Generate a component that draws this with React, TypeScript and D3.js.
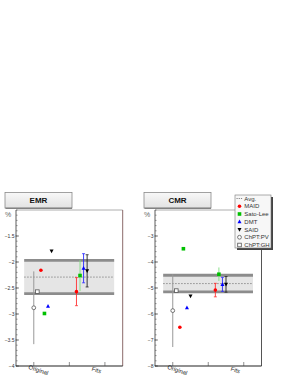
import React from "react";
import * as d3 from "d3";

// ---------- data ----------
const models = ["MAID", "Sato-Lee", "DMT", "SAID"];
const chptModels = ["ChPT:PV", "ChPT:GH"];
const modelColors = ["#ff0000", "#00c000", "#0000ff", "#000000"];
const fitBarColors = ["#ff3030", "#7fdc7f", "#2a2aff", "#222222"];
const modelShapes = ["circle", "square", "triangle", "triangleDown"];

const xCategories = ["Original", "", "Fits"];
const xTickPos = [0.5, 1.5, 2.5];

// x positions (in bin units) for the original-value points and the fit points
const origX = [0.7, 0.8, 0.9, 1.0];
const chptX = [0.5, 0.6];
const fitX = [1.7, 1.8, 1.9, 2.0];

// EMR panel
const emrOriginal = [-2.16, -2.99, -2.85, -1.79];
const emrChPT = [-2.88, -2.57];
const emrChPTErr = [0.7, 0];
const emrFit = [-2.57, -2.26, -2.12, -2.17];
const emrFitErr = [0.27, 0.3, 0.28, 0.31];
const emrAvg = -2.29;
const emrAvgErr = 0.32;
const emrTicks = [-1.5, -2, -2.5, -3, -3.5, -4];

// CMR panel
const cmrOriginal = [-6.51, -3.49, -5.76, -5.31];
const cmrChPT = [-5.87, -5.1];
const cmrChPTErr = [1.4, 0];
const cmrFit = [-5.08, -4.47, -4.86, -4.86];
const cmrFitErr = [0.26, 0.26, 0.27, 0.3];
const cmrAvg = -4.83;
const cmrAvgErr = 0.32;
const cmrTicks = [-3, -4, -5, -6, -7, -8];

const legendLabels = ["Avg.", ...models, ...chptModels];

// ---------- layout ----------
const W = 300;
const H = 388;
const TOP = 210;
const BOTTOM = 366;
const BAND_X = [0.23, 2.76];
const FONT = "'Liberation Sans', Arial, Helvetica, sans-serif";

function Marker({ shape, x, y, color, open }: any) {
  const s = 1.8;
  if (shape === "circle")
    return <circle cx={x} cy={y} r={open ? 1.9 : 1.8} fill={open ? "#fff" : color} stroke={open ? "#555" : "none"} strokeWidth={0.8} />;
  if (shape === "square")
    return <rect x={x - s} y={y - s} width={2 * s} height={2 * s} fill={open ? "#fff" : color} stroke={open ? "#555" : "none"} strokeWidth={0.8} />;
  if (shape === "triangle")
    return <path d={`M${x},${y - 2.2}L${x + 2},${y + 1.6}L${x - 2},${y + 1.6}Z`} fill={color} />;
  return <path d={`M${x},${y + 2.2}L${x + 2},${y - 1.6}L${x - 2},${y - 1.6}Z`} fill={color} />;
}

function Panel({ left, right, title, domain, ticks, minorStep, orig, chpt, chptErr, fit, fitErr, avg, avgErr, rightColor, labelDx }: any) {
  const x = d3.scaleLinear().domain([0, 3]).range([left, right]);
  const y = d3.scaleLinear().domain(domain).range([BOTTOM, TOP]);
  const minors = d3.range(domain[0], domain[1] + 1e-9, minorStep);
  const bandTop = y(avg + avgErr);
  const bandBot = y(avg - avgErr);
  return (
    <g>
      {/* title box */}
      <defs>
        <linearGradient id={`g${title}`} x1="0" y1="0" x2="0" y2="1">
          <stop offset="0" stopColor="#f8f8f8" />
          <stop offset="1" stopColor="#e2e2e2" />
        </linearGradient>
      </defs>
      <rect x={left - 11} y={192.5} width={67} height={15.5} fill={`url(#g${title})`} stroke="#8a8a8a" strokeWidth={0.8} />
      <line x1={left - 10.5} x2={left + 56} y1={208.3} y2={208.3} stroke="#555" strokeWidth={0.8} />
      <text x={left + 22.5} y={203.3} textAnchor="middle" fontFamily={FONT} fontWeight="bold" fontSize={8} fill="#111">{title}</text>

      {/* y title */}
      <text x={left - 11} y={217} fontFamily={FONT} fontSize={7} fill="#666">%</text>

      {/* band */}
      <rect x={x(BAND_X[0])} y={bandTop} width={x(BAND_X[1]) - x(BAND_X[0])} height={bandBot - bandTop} fill="#e5e5e5" />
      <line x1={x(BAND_X[0])} x2={x(BAND_X[1])} y1={bandTop} y2={bandTop} stroke="#8c8c8c" strokeWidth={2.8} />
      <line x1={x(BAND_X[0])} x2={x(BAND_X[1])} y1={bandBot} y2={bandBot} stroke="#8c8c8c" strokeWidth={2.8} />
      <line x1={x(BAND_X[0])} x2={x(BAND_X[1])} y1={y(avg)} y2={y(avg)} stroke="#777" strokeWidth={0.8} strokeDasharray="1.5,1.5" />

      {/* frame */}
      <line x1={left} x2={right} y1={TOP} y2={TOP} stroke="#9a9a9a" strokeWidth={0.8} />
      <line x1={right} x2={right} y1={TOP} y2={BOTTOM} stroke={rightColor} strokeWidth={1} />
      <line x1={left} x2={left} y1={TOP} y2={BOTTOM} stroke="#333" strokeWidth={0.8} />
      <line x1={left} x2={right} y1={BOTTOM} y2={BOTTOM} stroke="#222" strokeWidth={1.2} />

      {/* y ticks */}
      {minors.map((v: number, i: number) => (
        <line key={`m${i}`} x1={left} x2={left + 1.6} y1={y(v)} y2={y(v)} stroke="#444" strokeWidth={0.5} />
      ))}
      {ticks.map((v: number) => (
        <g key={`t${v}`}>
          <line x1={left - 0.5} x2={left + 3} y1={y(v)} y2={y(v)} stroke="#333" strokeWidth={0.6} />
          <text x={left - 1.5} y={y(v) + 1.8} textAnchor="end" fontFamily={FONT} fontSize={5} fill="#333">{d3.format("")(v)}</text>
        </g>
      ))}

      {/* x ticks */}
      {xTickPos.map((v, i) => (
        <g key={`x${i}`}>
          <line x1={x(v)} x2={x(v)} y1={BOTTOM} y2={BOTTOM - 4} stroke="#444" strokeWidth={0.6} />
          {xCategories[i] && (
            <text transform={`translate(${x(v) + labelDx[i]},${BOTTOM + 6}) rotate(18)`} textAnchor="middle" fontFamily={FONT} fontSize={6} fill="#222">{xCategories[i]}</text>
          )}
        </g>
      ))}

      {/* ChPT points */}
      {chpt.map((v: number, i: number) => (
        <g key={`c${i}`}>
          {chptErr[i] > 0 && (
            <line x1={x(chptX[i])} x2={x(chptX[i])} y1={y(v + chptErr[i])} y2={y(v - chptErr[i])} stroke="#999" strokeWidth={1} />
          )}
          <Marker shape={i === 0 ? "circle" : "square"} x={x(chptX[i])} y={y(v)} open />
        </g>
      ))}

      {/* original model values */}
      {orig.map((v: number, i: number) => (
        <Marker key={`o${i}`} shape={modelShapes[i]} x={x(origX[i])} y={y(v)} color={modelColors[i]} />
      ))}

      {/* fits with errors */}
      {fit.map((v: number, i: number) => {
        const cx = x(fitX[i]);
        const y1 = y(v + fitErr[i]);
        const y2 = y(v - fitErr[i]);
        return (
          <g key={`f${i}`}>
            <line x1={cx} x2={cx} y1={y1} y2={y2} stroke={fitBarColors[i]} strokeWidth={0.9} />
            {i !== 1 && <line x1={cx - 1.5} x2={cx + 1.5} y1={y1} y2={y1} stroke={fitBarColors[i]} strokeWidth={0.8} />}
            {i !== 1 && <line x1={cx - 1.5} x2={cx + 1.5} y1={y2} y2={y2} stroke={fitBarColors[i]} strokeWidth={0.8} />}
            <Marker shape={modelShapes[i]} x={cx} y={y(v)} color={modelColors[i]} />
          </g>
        );
      })}
    </g>
  );
}

function Legend() {
  const x0 = 235;
  const y0 = 195;
  const w = 36;
  const h = 53;
  const step = 7.75;
  return (
    <g>
      <rect x={x0 + 2} y={y0 + 2} width={w} height={h} fill="#444" />
      <rect x={x0} y={y0} width={w} height={h} fill="#f7f7f7" stroke="#777" strokeWidth={0.6} />
      {legendLabels.map((lab, i) => {
        const cy = y0 + 3.5 + i * step;
        let mark;
        if (i === 0) mark = <line x1={x0 + 1.5} x2={x0 + 8} y1={cy} y2={cy} stroke="#555" strokeWidth={0.7} strokeDasharray="1.2,1" />;
        else if (i <= 4) mark = <Marker shape={modelShapes[i - 1]} x={x0 + 4.5} y={cy} color={modelColors[i - 1]} />;
        else mark = <Marker shape={i === 5 ? "circle" : "square"} x={x0 + 4.5} y={cy} open />;
        return (
          <g key={lab}>
            {mark}
            <text x={x0 + 9.3} y={cy + 2} fontFamily={FONT} fontSize={6} fill="#333">{lab}</text>
          </g>
        );
      })}
    </g>
  );
}

export default function App() {
  return (
    <div style={{ position: "absolute", left: 0, top: 0 }}>
      <svg width={W} height={H} style={{ display: "block", background: "#fff" }}>
        <Panel left={16} right={122.7} title="EMR" domain={[-4, -1]} ticks={emrTicks} minorStep={0.1}
          orig={emrOriginal} chpt={emrChPT} chptErr={emrChPTErr} fit={emrFit} fitErr={emrFitErr}
          avg={emrAvg} avgErr={emrAvgErr} rightColor="#8c6a6a" labelDx={[4, 0, -9]} />
        <Panel left={155} right={261.5} title="CMR" domain={[-8, -2]} ticks={cmrTicks} minorStep={0.2}
          orig={cmrOriginal} chpt={cmrChPT} chptErr={cmrChPTErr} fit={cmrFit} fitErr={cmrFitErr}
          avg={cmrAvg} avgErr={cmrAvgErr} rightColor="#555" labelDx={[4, 0, -9]} />
        <Legend />
      </svg>
    </div>
  );
}
